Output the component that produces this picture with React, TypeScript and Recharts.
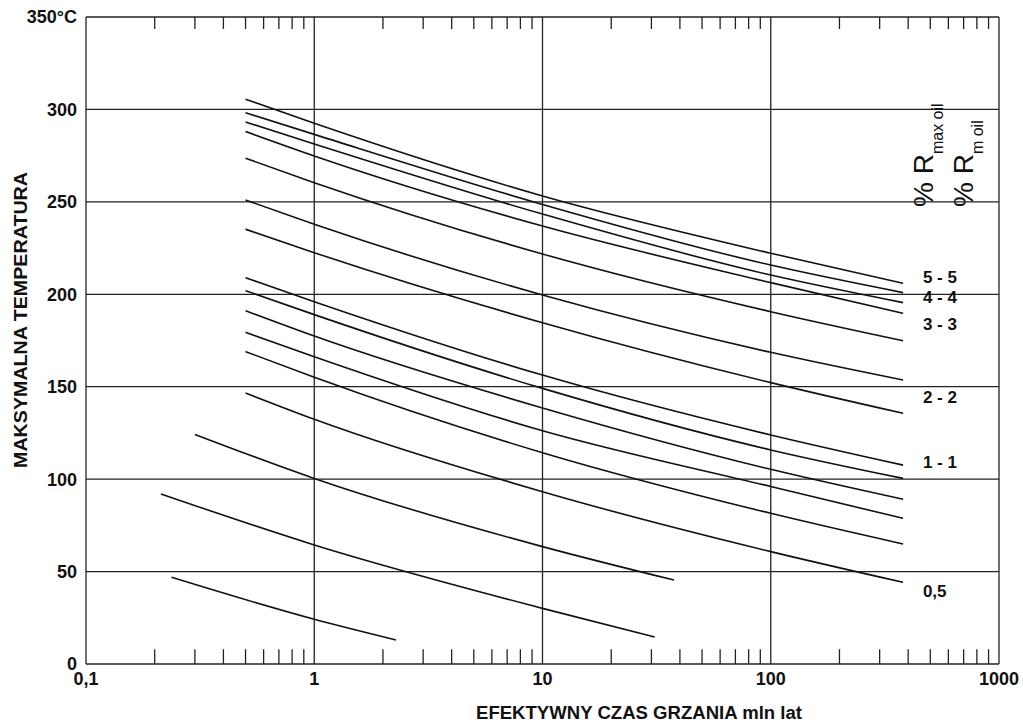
import React from 'react'
import {
  CartesianGrid,
  Line,
  LineChart,
  ReferenceDot,
  ReferenceLine,
  XAxis,
  YAxis,
} from 'recharts'

const longTimes = [0.5, 1, 10, 100, 380]

// max temperature (°C) of the long curves, top to bottom
const curve01 = [305.5, 292.5, 253.2, 222.2, 205.9]
const curve02 = [298.2, 286.5, 248.6, 215.8, 200.9]
const curve03 = [293.2, 281.3, 243.4, 210.4, 195.5]
const curve04 = [288, 274.8, 236.9, 206.3, 189.7]
const curve05 = [273.6, 260.4, 221.8, 190.6, 174.9]
const curve06 = [251, 237.9, 199.6, 168.6, 153.6]
const curve07 = [235.2, 222.5, 184.6, 152.2, 135.6]
const curve08 = [209, 196, 156.3, 123.9, 107.6]
const curve09 = [202, 189, 149.1, 115.8, 100.4]
const curve10 = [191.1, 177.4, 138.5, 105.3, 89.1]
const curve11 = [179.4, 166.2, 126.2, 96, 78.8]
const curve12 = [169, 155.1, 114.3, 81.5, 64.9]
const curve13 = [146.6, 132.4, 93.2, 60.8, 44.2]

// the three short curves at the bottom
const curve14Times = [0.3, 1, 10, 37.7]
const curve14 = [124.2, 100.4, 63.5, 45.4]
const curve15Times = [0.213, 1, 10, 31]
const curve15 = [92, 64.4, 30.1, 14.6]
const curve16Times = [0.237, 1, 2.28]
const curve16 = [46.9, 24.2, 13]

const xTicks = [0.1, 1, 10, 100, 1000]
const yTicks = [0, 50, 100, 150, 200, 250, 300, 350]
const minorTicks = [
  0.2, 0.3, 0.4, 0.5, 0.6, 0.7, 0.8, 0.9,
  2, 3, 4, 5, 6, 7, 8, 9,
  20, 30, 40, 50, 60, 70, 80, 90,
  200, 300, 400, 500, 600, 700, 800, 900,
]

const curveLabels = ['5 - 5', '4 - 4', '3 - 3', '2 - 2', '1 - 1', '0,5']
const curveLabelTemps = [209.5, 198.4, 184, 144.3, 109.5, 39.4]

const FONT = '"Liberation Sans", Arial, sans-serif'
const INK = '#111'
const W = 1023
const H = 722

const toPoints = (xs: number[], ys: number[]) => xs.map((x, i) => ({ x, y: ys[i] }))

const series = [
  toPoints(longTimes, curve01),
  toPoints(longTimes, curve02),
  toPoints(longTimes, curve03),
  toPoints(longTimes, curve04),
  toPoints(longTimes, curve05),
  toPoints(longTimes, curve06),
  toPoints(longTimes, curve07),
  toPoints(longTimes, curve08),
  toPoints(longTimes, curve09),
  toPoints(longTimes, curve10),
  toPoints(longTimes, curve11),
  toPoints(longTimes, curve12),
  toPoints(longTimes, curve13),
  toPoints(curve14Times, curve14),
  toPoints(curve15Times, curve15),
  toPoints(curve16Times, curve16),
]

const formatX = (v: number) => (v === 0.1 ? '0,1' : String(v))
const formatY = (v: number) => (v === 350 ? '350°C' : String(v))

export default function App() {
  return (
    <div style={{ position: 'relative', width: W, height: H, fontFamily: FONT, background: '#fff' }}>
      <style>{'body{margin:0;overflow:hidden}'}</style>
      <LineChart width={W} height={H} margin={{ top: 17, right: 24, left: 0, bottom: 0 }}>
        <CartesianGrid stroke="#222" strokeWidth={1.3} />
        <XAxis
          type="number"
          dataKey="x"
          scale="log"
          domain={[0.1, 1000]}
          ticks={xTicks}
          allowDataOverflow
          height={58}
          axisLine={false}
          tickLine={false}
          tickSize={0}
          tickMargin={8}
          tickFormatter={formatX}
          tick={{ fontSize: 18, fontWeight: 700, fill: INK, fontFamily: FONT }}
        />
        <YAxis
          type="number"
          domain={[0, 350]}
          ticks={yTicks}
          allowDataOverflow
          width={86}
          axisLine={false}
          tickLine={false}
          tickSize={0}
          tickMargin={9}
          tickFormatter={formatY}
          tick={{ fontSize: 18, fontWeight: 700, fill: INK, fontFamily: FONT }}
        />
        {minorTicks.map((m) => (
          <ReferenceLine
            key={`b${m}`}
            segment={[
              { x: m, y: 0 },
              { x: m, y: 8 },
            ]}
            stroke="#222"
            strokeWidth={1.3}
          />
        ))}
        {minorTicks.map((m) => (
          <ReferenceLine
            key={`t${m}`}
            segment={[
              { x: m, y: 343.5 },
              { x: m, y: 350 },
            ]}
            stroke="#222"
            strokeWidth={1.3}
          />
        ))}
        {series.map((data, i) => (
          <Line
            key={i}
            data={data}
            dataKey="y"
            type="monotone"
            stroke={INK}
            strokeWidth={1.6}
            dot={false}
            activeDot={false}
            isAnimationActive={false}
          />
        ))}
        {curveLabels.map((text, i) => (
          <ReferenceDot
            key={text}
            x={464}
            y={curveLabelTemps[i]}
            r={0}
            fill="none"
            stroke="none"
            label={{
              value: text,
              position: 'right',
              offset: 0,
              fontSize: 17,
              fontWeight: 700,
              fill: INK,
              fontFamily: FONT,
            }}
          />
        ))}
      </LineChart>
      <svg
        width={W}
        height={H}
        style={{ position: 'absolute', left: 0, top: 0, pointerEvents: 'none' }}
      >
        <text
          x={20}
          y={320}
          transform="rotate(-90 20 320)"
          textAnchor="middle"
          dominantBaseline="central"
          fontSize={19}
          fontWeight={700}
          fill={INK}
          fontFamily={FONT}
          textLength={296}
          lengthAdjust="spacingAndGlyphs"
        >
          MAKSYMALNA TEMPERATURA
        </text>
        <text
          x={639}
          y={713}
          textAnchor="middle"
          dominantBaseline="central"
          fontSize={18}
          fontWeight={700}
          fill={INK}
          fontFamily={FONT}
          textLength={326}
          lengthAdjust="spacingAndGlyphs"
        >
          EFEKTYWNY CZAS GRZANIA mln lat
        </text>
        <text
          x={933}
          y={207}
          transform="rotate(-90 933 207)"
          fontSize={28}
          fill={INK}
          fontFamily={FONT}
        >
          % R
          <tspan fontSize={16} dy={10}>
            max oil
          </tspan>
        </text>
        <text
          x={973}
          y={207}
          transform="rotate(-90 973 207)"
          fontSize={28}
          fill={INK}
          fontFamily={FONT}
        >
          % R
          <tspan fontSize={16} dy={10}>
            m oil
          </tspan>
        </text>
      </svg>
    </div>
  )
}
